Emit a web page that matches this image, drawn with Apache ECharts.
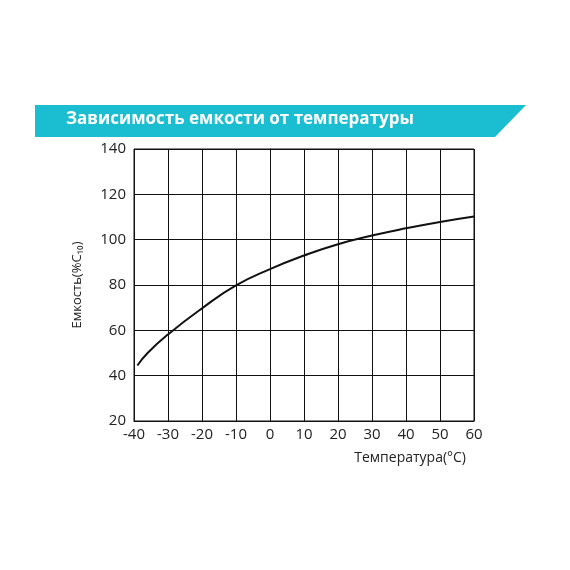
<!DOCTYPE html>
<html><head><meta charset="utf-8">
<script src="https://cdn.jsdelivr.net/npm/echarts@6/dist/echarts.min.js"></script>
<style>html,body{margin:0;padding:0;background:#fff}#c{width:570px;height:570px}</style>
</head><body><div id="c"></div>
<script>
const titleText = 'Зависимость емкости от температуры';
const xName = 'Температура(°C)';
const yName = 'Емкость(%C₁₀)';
const temps = [-39, -36, -30, -20, -10, 0, 10, 20, 30, 40, 50, 60];
const capacity = [44.5, 50, 58.2, 69.7, 79.8, 87, 93, 98, 101.8, 105, 107.8, 110.2];

const chart = echarts.init(document.getElementById('c'));
const font = '"Open Sans", "Noto Sans", sans-serif';
chart.setOption({
  animation: false,
  backgroundColor: '#fff',
  grid: {left: 134, right: 96, top: 149, bottom: 149, show: true, borderColor: '#111', borderWidth: 1},
  graphic: [
    {type: 'polygon', shape: {points: [[35, 105], [526, 105], [495, 137], [35, 137]]}, style: {fill: '#1bbdd0'}},
    {type: 'text', left: 66, top: 111, style: {text: titleText, fill: '#fff', font: 'bold 17px ' + font}},
    {type: 'text', right: 104, top: 451, style: {text: xName, fill: '#222', font: '14px ' + font}}
  ],
  xAxis: {
    type: 'value', min: -40, max: 60, interval: 10,
    axisLine: {lineStyle: {color: '#111', width: 1}},
    axisTick: {show: false},
    axisLabel: {color: '#222', fontSize: 15, fontFamily: font, margin: 6},
    splitLine: {show: true, lineStyle: {color: '#111', width: 1}}
  },
  yAxis: {
    type: 'value', min: 20, max: 140, interval: 20,
    name: yName, nameLocation: 'middle', nameGap: 50, nameRotate: 90,
    nameTextStyle: {color: '#222', fontSize: 13, fontFamily: font},
    axisLine: {show: true, lineStyle: {color: '#111', width: 1}},
    axisTick: {show: false},
    axisLabel: {color: '#222', fontSize: 15, fontFamily: font, margin: 8},
    splitLine: {show: true, lineStyle: {color: '#111', width: 1}}
  },
  series: [{
    type: 'line', data: temps.map((t, i) => [t, capacity[i]]),
    smooth: 0.5, showSymbol: false,
    lineStyle: {color: '#111', width: 2}
  }]
});
</script></body></html>
